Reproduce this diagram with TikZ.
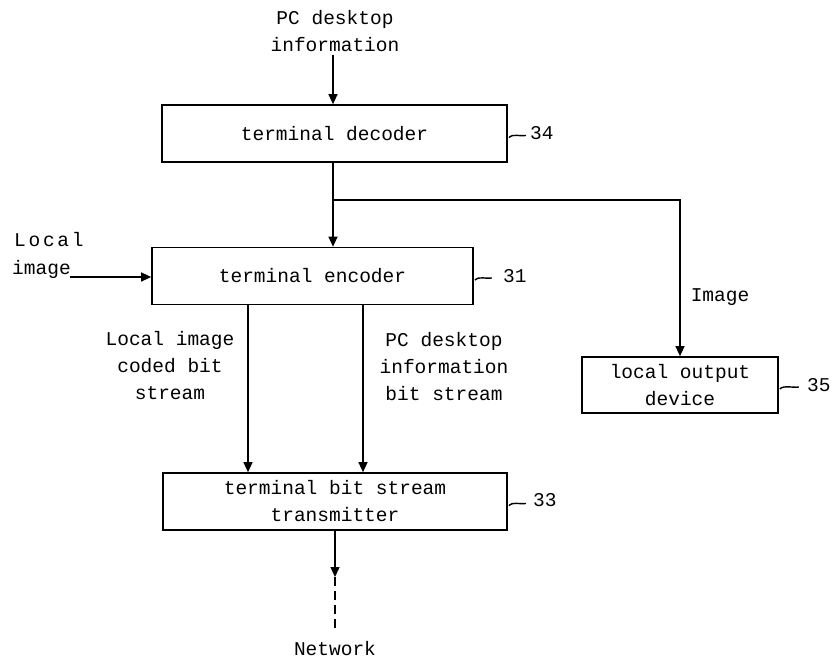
\documentclass[tikz,border=0pt]{standalone}
\usepackage{fontspec}
\setmainfont{Liberation Mono}
\newfontfamily\spacedfont[LetterSpace=14]{Liberation Mono}
\usetikzlibrary{arrows.meta}
\begin{document}
\begin{tikzpicture}[x=1pt,y=-1pt,
  font=\fontsize{19.5}{27}\selectfont,
  blk/.style={draw,line width=1.7pt,minimum width=#1,minimum height=57pt,inner sep=0pt,align=center},
  conn/.style={line width=1.4pt},
  arr/.style={conn,-{Triangle[length=10pt,width=9pt]}},
  lbl/.style={align=center,inner sep=0pt},
  tildeline/.style={line width=1.4pt}]
\useasboundingbox (0,0) rectangle (837,661);
% blocks
\node[blk=345pt] (dec) at (334.5,133.5) {terminal decoder};
\node[blk=321pt] (enc) at (312.5,276) {terminal encoder};
\node[blk=344pt] (tx) at (335,501.5) {terminal bit stream\\transmitter};
\node[blk=196pt,minimum height=56pt] (out) at (680,385) {local output\\device};
% texts
\node[lbl] (pcin) at (335,31) {PC desktop\\information};
\node[lbl,anchor=west] (loc) at (14,240) {\spacedfont Local};
\node[lbl,anchor=west] (img) at (12,269) {image};
\node[lbl] (lab1) at (170,366) {Local image\\coded bit\\stream};
\node[lbl] (lab2) at (444,367) {PC desktop\\information\\bit stream};
\node[lbl] (lab3) at (720,297) {Image};
\node[lbl] (net) at (335,649) {Network};
\node[lbl,anchor=west] (n34) at (530,133) {34};
\node[lbl,anchor=west] (n31) at (503,276) {31};
\node[lbl,anchor=west] (n33) at (533,500) {33};
\node[lbl,anchor=west] (n35) at (807,385) {35};
% reference tildes
\draw[tildeline] (dec.east) ++(1,4) .. controls +(3,-4) and +(-5,1) .. ++(17,-2);
\draw[tildeline] (enc.east) ++(1,4) .. controls +(3,-4) and +(-5,1) .. ++(17,-2);
\draw[tildeline] (tx.east) ++(1,4) .. controls +(3,-4) and +(-5,1) .. ++(17,-2);
\draw[tildeline] (out.east) ++(1,4) .. controls +(3,-4) and +(-5,1) .. ++(19,-2);
% connectors
\coordinate (pctop) at (333,55);
\draw[arr] (pctop) -- (pctop |- dec.north);
\coordinate (j) at (333,200);
\coordinate (jr) at (680,200);
\draw[conn] (j |- dec.south) -- (j);
\draw[arr] (j) -- (j |- enc.north);
\draw[arr] (j) -- (jr) -- (out.north);
\coordinate (limg) at (70,277);
\draw[arr] (limg) -- (enc.west |- limg);
\coordinate (s1) at (248,305);
\coordinate (s2) at (363,305);
\draw[arr] (s1 |- enc.south) -- (s1 |- tx.north);
\draw[arr] (s2 |- enc.south) -- (s2 |- tx.north);
\coordinate (nt) at (335,577);
\coordinate (nb) at (335,632);
\draw[arr] (tx.south) -- (nt);
\draw[conn,dash pattern=on 9pt off 5pt] (nt) -- (nb);
\end{tikzpicture}
\end{document}
